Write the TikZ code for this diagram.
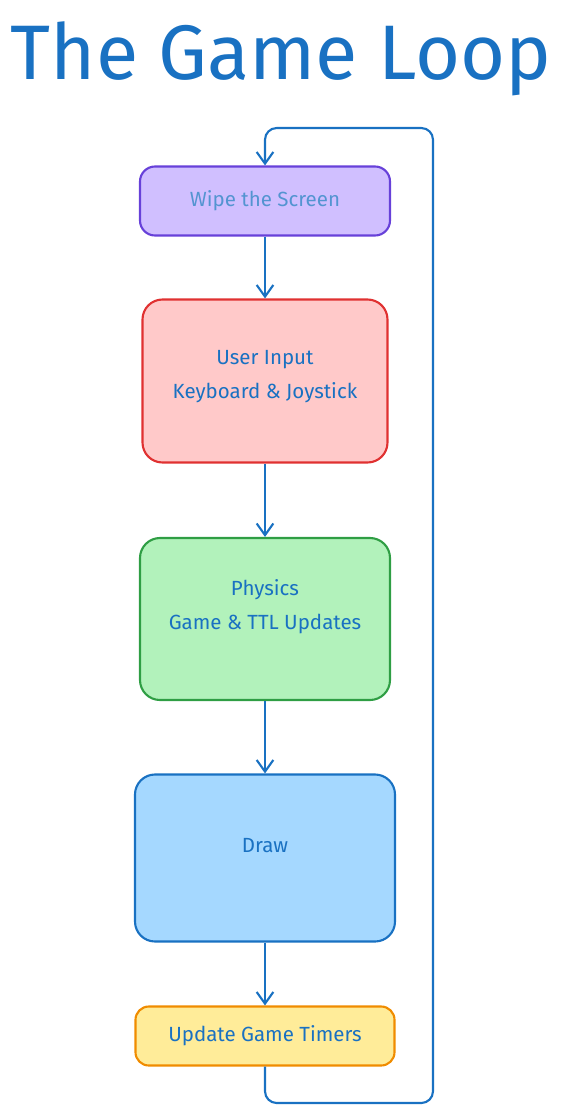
\documentclass[tikz,border=0pt]{standalone}
\usepackage{fontspec}
\setmainfont{Fira Sans}
\usepackage{tikz}
\usetikzlibrary{arrows.meta, positioning, calc}
\definecolor{inkblue}{HTML}{1971C2}
\definecolor{wipefill}{HTML}{D0BFFF}
\definecolor{wipeline}{HTML}{6741D9}
\definecolor{inputfill}{HTML}{FFC9C9}
\definecolor{inputline}{HTML}{E03131}
\definecolor{physfill}{HTML}{B2F2BB}
\definecolor{physline}{HTML}{2F9E44}
\definecolor{drawfill}{HTML}{A5D8FF}
\definecolor{timerfill}{HTML}{FFEC99}
\definecolor{timerline}{HTML}{F08C00}
\tikzset{
  block/.style={rounded corners=0.6cm, line width=1.8pt, align=center, text=inkblue,
    font=\fontsize{17.5}{29}\selectfont},
  flow/.style={draw=inkblue, line width=1.8pt, -{Straight Barb[length=3.5mm,width=5mm,line width=1.8pt]}}
}
\begin{document}
\begin{tikzpicture}[x=0.03cm, y=-0.03cm]
\useasboundingbox (0,0) rectangle (565,1116);
\node [text=inkblue, font=\fontsize{66}{68}\selectfont] (title) at (281,59) {The Game Loop};
\node [block, draw=wipeline, fill=wipefill, text=inkblue!75, rounded corners=0.45cm,
  minimum width=7.5cm, minimum height=2.07cm] (wipe) at (265,201) {Wipe the Screen};
\node [block, draw=inputline, fill=inputfill, text depth=0.37cm,
  minimum width=7.35cm, minimum height=4.89cm] (input) at (265,381) {User Input\\Keyboard \& Joystick};
\node [block, draw=physline, fill=physfill, text depth=0.85cm,
  minimum width=7.5cm, minimum height=4.86cm] (physics) at (265,619) {Physics\\Game \& TTL Updates};
\node [block, draw=inkblue, fill=drawfill, text depth=0.78cm,
  minimum width=7.8cm, minimum height=5.01cm] (draw) at (265,858) {Draw};
\node [block, draw=timerline, fill=timerfill, rounded corners=0.4cm,
  minimum width=7.77cm, minimum height=1.77cm] (timers) at (265,1036) {Update Game Timers};
\coordinate (loopa) at (265,1103);
\coordinate (loopb) at (433,1103);
\coordinate (loopc) at (433,128);
\coordinate (loopd) at (265,128);
% chain of steps
\draw [flow] (wipe) -- (input);
\draw [flow] (input) -- (physics);
\draw [flow] (physics) -- (draw);
\draw [flow] (draw) -- (timers);
% back to the top
\draw [flow, rounded corners=0.35cm] (timers.south) -- (loopa) -- (loopb) -- (loopc) -- (loopd) -- (wipe.north);
\end{tikzpicture}
\end{document}
